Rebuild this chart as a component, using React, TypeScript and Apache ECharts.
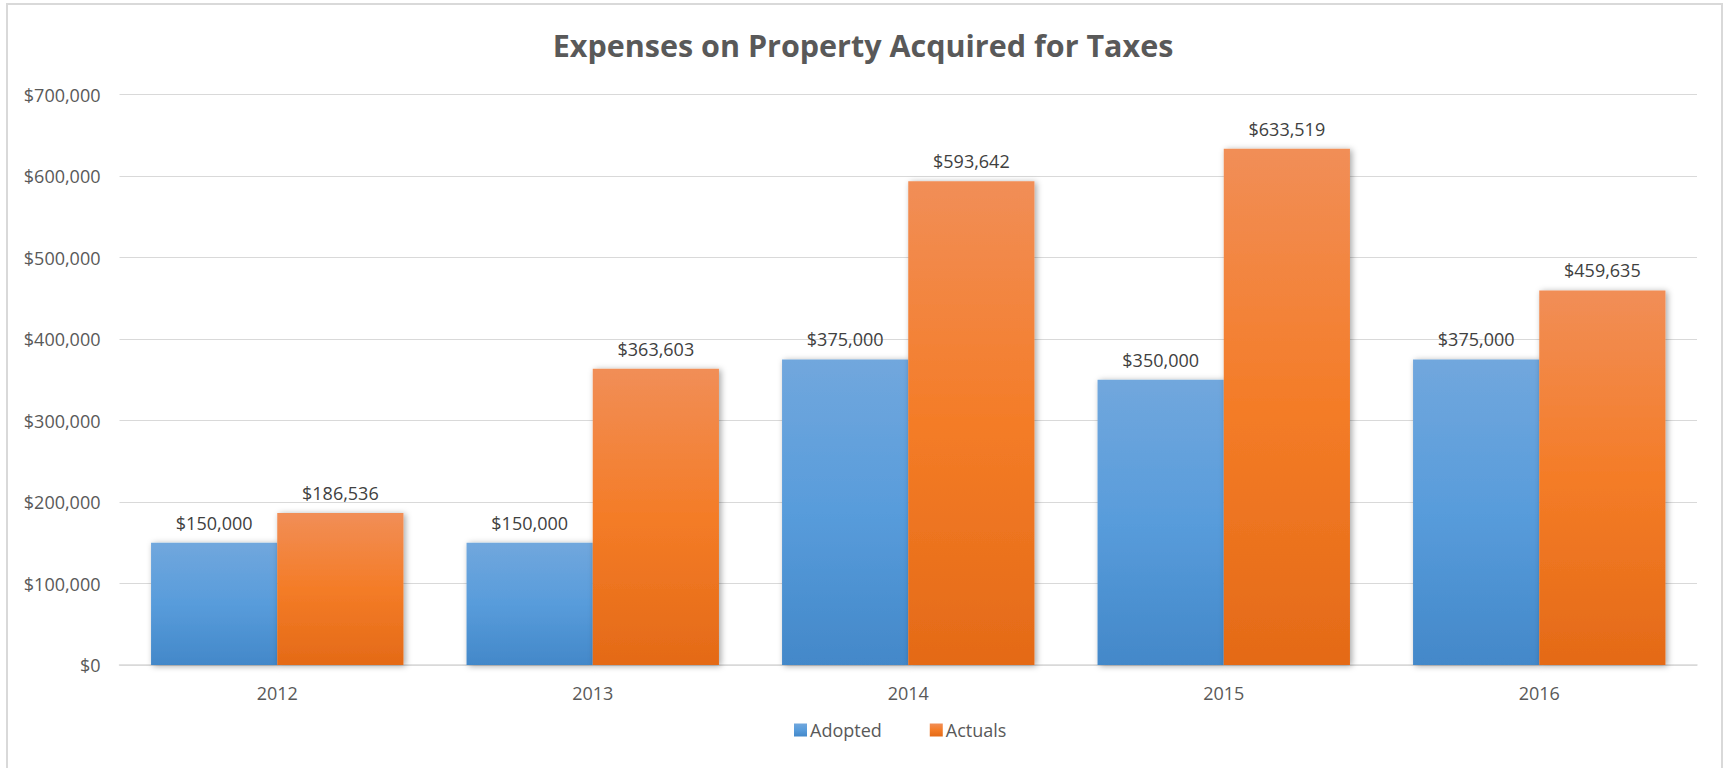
import React, { useEffect, useRef } from "react";
import * as echarts from "echarts";

const categories = ["2012", "2013", "2014", "2015", "2016"];
const adopted = [150000, 150000, 375000, 350000, 375000];
const actuals = [186536, 363603, 593642, 633519, 459635];
const seriesNames = ["Adopted", "Actuals"];
const yTicks = { min: 0, max: 700000, interval: 100000 };

const money = (v: number) => "$" + Math.round(v).toLocaleString("en-US");

const blue = new echarts.graphic.LinearGradient(0, 0, 0, 1, [
  { offset: 0, color: "#71a7dd" },
  { offset: 0.5, color: "#589cdb" },
  { offset: 1, color: "#4388c9" },
]);
const orange = new echarts.graphic.LinearGradient(0, 0, 0, 1, [
  { offset: 0, color: "#f18e57" },
  { offset: 0.5, color: "#f47c27" },
  { offset: 1, color: "#e46a17" },
]);

const FONT = "'Open Sans', sans-serif";

export default function App() {
  const ref = useRef<HTMLDivElement>(null);
  useEffect(() => {
    if (!ref.current) return;
    const chart = echarts.init(ref.current, undefined, { renderer: "svg" });
    const labelCfg = {
      show: true,
      position: "top",
      distance: 11,
      color: "#404040",
      fontSize: 18,
      fontFamily: FONT,
      formatter: (p: any) => money(p.value),
    };
    const shadow = {
      shadowColor: "rgba(0,0,0,0.35)",
      shadowBlur: 6,
      shadowOffsetX: 2,
      shadowOffsetY: 1,
    };
    chart.setOption({
      animation: false,
      backgroundColor: "#ffffff",
      textStyle: { fontFamily: FONT },
      title: {
        text: "Expenses on Property Acquired for Taxes",
        left: "center",
        top: 24,
        textStyle: {
          fontFamily: FONT,
          fontSize: 30.5,
          fontWeight: "bold",
          color: "#595959",
        },
      },
      graphic: [
        {
          type: "rect",
          shape: { x: 7, y: 4, width: 1715, height: 790 },
          style: { fill: "none", stroke: "#d9d9d9", lineWidth: 2 },
          silent: true,
          z: -1,
        },
      ],
      legend: {
        left: 789,
        top: 716,
        itemWidth: 13,
        itemHeight: 13,
        itemGap: 48,
        icon: "rect",
        textStyle: { fontFamily: FONT, fontSize: 18, color: "#595959", padding: [0, 0, 0, -2] },
        data: seriesNames,
      },
      grid: { left: 119.5, right: 29, top: 94.5, bottom: 103, containLabel: false },
      xAxis: {
        type: "category",
        data: categories,
        axisLine: { show: true, lineStyle: { color: "#d9d9d9", width: 1.5 } },
        axisTick: { show: false },
        axisLabel: { color: "#595959", fontSize: 18, fontFamily: FONT, margin: 19 },
      },
      yAxis: {
        type: "value",
        min: yTicks.min,
        max: yTicks.max,
        interval: yTicks.interval,
        axisLine: { show: false },
        axisTick: { show: false },
        splitLine: { lineStyle: { color: "#d9d9d9", width: 1.2 } },
        axisLabel: {
          color: "#595959",
          fontSize: 18,
          fontFamily: FONT,
          margin: 19,
          formatter: (v: number) => money(v),
        },
      },
      series: [
        {
          name: seriesNames[0],
          type: "bar",
          data: adopted,
          barGap: "0%",
          barCategoryGap: "20%",
          itemStyle: { color: blue, ...shadow },
          label: labelCfg,
        },
        {
          name: seriesNames[1],
          type: "bar",
          data: actuals,
          barGap: "0%",
          barCategoryGap: "20%",
          itemStyle: { color: orange, ...shadow },
          label: labelCfg,
        },
      ],
    });
    return () => chart.dispose();
  }, []);
  return (
    <div
      ref={ref}
      style={{ position: "absolute", left: 0, top: 0, width: 1726, height: 768 }}
    />
  );
}
